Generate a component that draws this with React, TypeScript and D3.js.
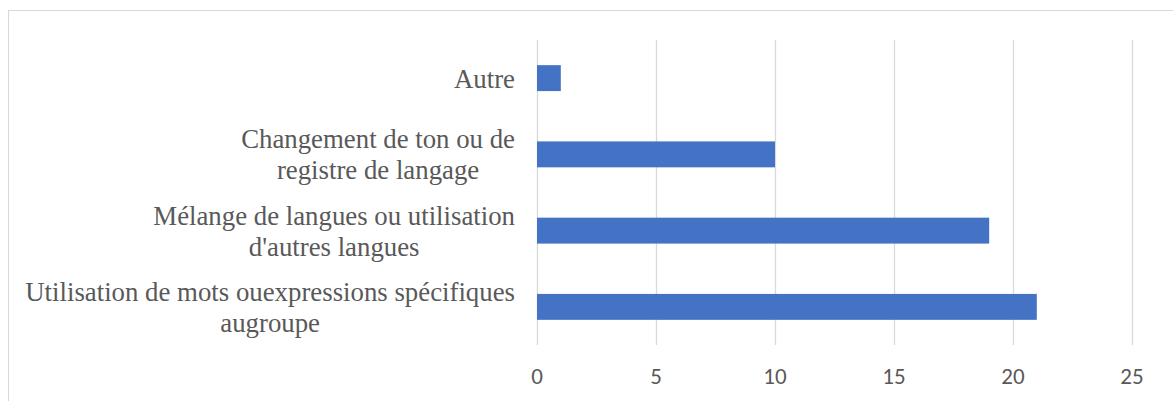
import React from "react";
import * as d3 from "d3";

const categories = [
  "Autre",
  "Changement de ton ou de registre de langage",
  "Mélange de langues ou utilisation d'autres langues",
  "Utilisation de mots ouexpressions spécifiques augroupe",
];
const categoryLines = [
  ["Autre"],
  ["Changement de ton ou de", "registre de langage"],
  ["Mélange de langues ou utilisation", "d'autres langues"],
  ["Utilisation de mots ouexpressions spécifiques", "augroupe"],
];
const values = [1, 10, 19, 21];
const xTicks = [0, 5, 10, 15, 20, 25];

export default function App() {
  const W = 1173;
  const H = 401;
  const x = d3.scaleLinear().domain([0, 25]).range([537, 1132]);
  const y = d3
    .scaleBand<string>()
    .domain(categories)
    .range([40, 345])
    .paddingInner(0.66)
    .paddingOuter(0.33);
  const labelRight = 515;
  const lineH = 31;
  const labelFont = 26.8;

  return (
    <svg
      width={W}
      height={H}
      style={{ position: "absolute", left: 0, top: 0 }}
    >
      <rect x={0} y={0} width={W} height={H} fill="#fff" />
      <rect
        x={8.5}
        y={10.5}
        width={W + 20}
        height={H + 20}
        fill="none"
        stroke="#D9D9D9"
        strokeWidth={1}
      />
      {xTicks.map((t) => (
        <line
          key={"g" + t}
          x1={Math.round(x(t)) + 0.5}
          x2={Math.round(x(t)) + 0.5}
          y1={40}
          y2={345}
          stroke="#D9D9D9"
          strokeWidth={1.3}
        />
      ))}
      {categories.map((c, i) => (
        <rect
          key={"b" + c}
          x={x(0)}
          y={y(c)!}
          width={x(values[i]) - x(0)}
          height={y.bandwidth()}
          fill="#4472C4"
        />
      ))}
      {xTicks.map((t) => (
        <text
          key={"t" + t}
          x={x(t)}
          y={384}
          textAnchor="middle"
          fontFamily="Carlito, 'Liberation Sans', sans-serif"
          fontSize={23}
          fill="#595959"
        >
          {t}
        </text>
      ))}
      {categories.map((c, i) => {
        const lines = categoryLines[i];
        const cy = y(c)! + y.bandwidth() / 2;
        const first =
          cy - ((lines.length - 1) * lineH) / 2 + labelFont * 0.3 + 1.5;
        return (
          <g key={"l" + c}>
            {lines.map((ln, j) => (
              <text
                key={j}
                x={0}
                y={first + j * lineH}
                textAnchor="middle"
                fontFamily="Tinos, 'Times New Roman', serif"
                fontSize={labelFont}
                fill="#595959"
                data-cat={i}
              >
                {ln}
              </text>
            ))}
          </g>
        );
      })}
      <LabelAligner right={labelRight} />
    </svg>
  );
}

function LabelAligner({ right }: { right: number }) {
  const ref = React.useRef<SVGGElement>(null);
  React.useLayoutEffect(() => {
    const svg = ref.current?.ownerSVGElement;
    if (!svg) return;
    const groups = d3.groups(
      Array.from(svg.querySelectorAll<SVGTextElement>("text[data-cat]")),
      (el) => el.getAttribute("data-cat")
    );
    groups.forEach(([, els]) => {
      const maxW = d3.max(els, (el) => el.getComputedTextLength()) || 0;
      const cx = right - maxW / 2;
      els.forEach((el) => el.setAttribute("x", String(cx)));
    });
  }, []);
  return <g ref={ref} />;
}
